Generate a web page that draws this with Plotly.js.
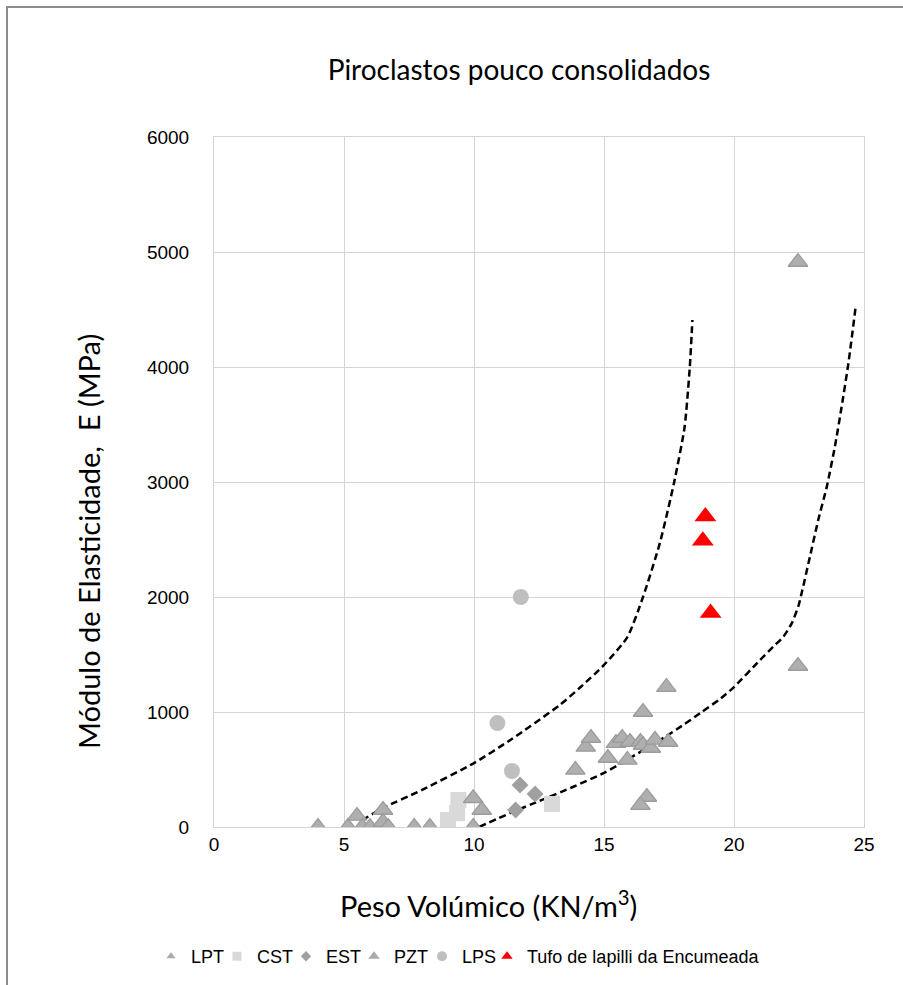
<!DOCTYPE html>
<html>
<head>
<meta charset="utf-8">
<script src="https://cdn.plot.ly/plotly-3.0.1.min.js"></script>
<style>
html,body{margin:0;padding:0;background:#fff;}
#wrap{position:relative;width:903px;height:985px;}
#chart{position:absolute;left:0;top:0;width:903px;height:985px;}
#frame{position:absolute;left:6px;top:6px;width:905px;height:990px;border-left:2px solid #8c8c8c;border-top:2px solid #8c8c8c;pointer-events:none;}
</style>
</head>
<body>
<div id="wrap"><div id="chart"></div><div id="frame"></div></div>
<script>
// ---- data ----
const lptX = [4.0, 5.15, 5.5, 5.7, 6.0, 6.5, 6.5, 6.7, 7.7, 8.3, 9.97, 10.3, 9.97];
const lptY = [0, 0, 96, 0, 0, 148, 43, 0, 0, 0, 250, 148, 0];

const cstX = [9.0, 9.35, 9.4, 13.0];
const cstY = [60, 120, 235, 200];

const estX = [11.6, 11.77, 12.35];
const estY = [148, 365, 287];

const pztX = [13.9, 14.3, 14.5, 15.15, 15.46, 15.7, 15.9, 16.0, 16.4, 16.5, 16.8, 16.96, 17.47, 16.5, 17.4, 16.65, 16.4, 22.46, 22.46];
const pztY = [496, 696, 774, 600, 730, 774, 583, 739, 739, 713, 687, 757, 739, 1000, 1217, 261, 191, 4913, 1400];

const lpsX = [11.46, 10.9, 11.8];
const lpsY = [487, 904, 2000];

const tufoX = [18.9, 18.8, 19.1];
const tufoY = [2700, 2490, 1860];

const upperCurveX = [5.7, 6.5, 8.0, 10.0, 11.4, 13.3, 14.1, 15.0, 15.9, 16.5, 17.15, 17.7, 18.1, 18.3, 18.4];
const upperCurveY = [60, 165, 322, 556, 757, 1061, 1217, 1409, 1652, 2000, 2470, 3000, 3478, 4000, 4409];

const lowerCurveX = [10.2, 11.4, 12.5, 13.8, 15.0, 15.7, 17.4, 18.0, 18.7, 19.5, 20.0, 21.0, 21.51, 21.9, 22.22, 22.47, 22.6, 22.92, 23.24, 23.57, 23.88, 24.14, 24.4, 24.68];
const lowerCurveY = [0, 122, 225, 348, 470, 560, 790, 880, 990, 1120, 1217, 1452, 1568, 1655, 1771, 1916, 2032, 2350, 2670, 2960, 3307, 3655, 4032, 4524];

const seriesNames = ['LPT', 'CST', 'EST', 'PZT', 'LPS', 'Tufo de lapilli da Encumeada'];
const xTicks = [0, 5, 10, 15, 20, 25];
const yTicks = [0, 1000, 2000, 3000, 4000, 5000, 6000];

// ---- styles ----
const triGray = '#afafaf', triEdge = '#9c9c9c';
const fontAxis = 'Liberation Sans, Arial, sans-serif';
const fontTitle = 'Lato, Open Sans, sans-serif';

function pts(x, y, marker) {
  return {type: 'scatter', mode: 'markers', x: x, y: y, marker: marker, showlegend: false, hoverinfo: 'x+y'};
}
function leg(name, marker, legendId) {
  return {type: 'scatter', mode: 'markers', x: [null], y: [null], name: name, marker: marker, showlegend: true, legend: legendId};
}
const dashLine = {color: '#000', width: 2.5, dash: '7px,4px', shape: 'spline', smoothing: 0.6};

const legendIds = ['legend', 'legend2', 'legend3', 'legend4', 'legend5', 'legend6'];
const data = [
  {type: 'scatter', mode: 'lines', x: upperCurveX, y: upperCurveY, line: dashLine, showlegend: false},
  {type: 'scatter', mode: 'lines', x: lowerCurveX, y: lowerCurveY, line: dashLine, showlegend: false},
  pts(cstX, cstY, {symbol: 'square', size: 16, color: '#d9d9d9'}),
  pts(lptX, lptY, {symbol: 'triangle-up', size: 17, color: triGray, line: {color: triEdge, width: 1.3}}),
  pts(pztX, pztY, {symbol: 'triangle-up', size: 17, color: triGray, line: {color: triEdge, width: 1.3}}),
  pts(estX, estY, {symbol: 'diamond', size: 13, color: '#a0a0a0'}),
  pts(lpsX, lpsY, {symbol: 'circle', size: 16, color: '#bfbfbf'}),
  pts(tufoX, tufoY, {symbol: 'triangle-up', size: 19, color: '#ff0000'}),
  leg(seriesNames[0], {symbol: 'triangle-up', size: 8, color: '#aaaaaa'}, legendIds[0]),
  leg(seriesNames[1], {symbol: 'square', size: 9, color: '#d9d9d9'}, legendIds[1]),
  leg(seriesNames[2], {symbol: 'diamond', size: 8, color: '#a0a0a0'}, legendIds[2]),
  leg(seriesNames[3], {symbol: 'triangle-up', size: 10, color: '#aaaaaa'}, legendIds[3]),
  leg(seriesNames[4], {symbol: 'circle', size: 10, color: '#bfbfbf'}, legendIds[4]),
  leg(seriesNames[5], {symbol: 'triangle-up', size: 10, color: '#ff0000'}, legendIds[5])
];

const legendFont = {family: fontAxis, size: 18, color: '#000'};
// text start positions of the legend entries (px)
const legendTextStart = [186, 252, 321, 389, 457, 522];

const layout = {
  width: 903, height: 985,
  margin: {l: 214, r: 39, t: 137, b: 158, autoexpand: false},
  paper_bgcolor: '#fff', plot_bgcolor: '#fff',
  title: {text: 'Piroclastos pouco consolidados', font: {family: fontTitle, size: 28, color: '#000'}, x: 519 / 903, xanchor: 'center', y: 1 - 70 / 985, yanchor: 'middle'},
  xaxis: {
    range: [0, 25], tickvals: xTicks, ticktext: xTicks.map(String),
    showgrid: true, gridcolor: '#d4d4d4', gridwidth: 1,
    zeroline: false, showline: true, linecolor: '#d4d4d4', linewidth: 1, mirror: true,
    ticks: '', ticklen: 0, tickfont: {family: fontAxis, size: 19, color: '#000'}, ticklabelstandoff: 0, automargin: false
  },
  yaxis: {
    range: [0, 6000], tickvals: yTicks, ticktext: yTicks.map(String),
    showgrid: true, gridcolor: '#d4d4d4', gridwidth: 1,
    zeroline: false, showline: true, linecolor: '#d4d4d4', linewidth: 1, mirror: true,
    ticks: '', tickfont: {family: fontAxis, size: 19, color: '#000'}, ticklabelstandoff: 20, automargin: false
  },
  annotations: [
    {text: 'Peso Volúmico (KN/m<sup>3</sup>)', xref: 'paper', yref: 'paper', x: (488 - 214) / 650, y: -(904 - 827) / 690, xanchor: 'center', yanchor: 'middle', showarrow: false, font: {family: fontTitle, size: 29, color: '#000'}},
    {text: 'Módulo de Elasticidade,  E (MPa)', xref: 'paper', yref: 'paper', x: -(214 - 88) / 650, y: (827 - 542) / 690, xanchor: 'center', yanchor: 'middle', textangle: -90, showarrow: false, font: {family: fontTitle, size: 29, color: '#000'}}
  ],
  showlegend: true
};
legendIds.forEach(function (id, i) {
  layout[id] = {
    orientation: 'h', xref: 'container', yref: 'container',
    x: (legendTextStart[i] - 35) / 903, xanchor: 'left',
    y: 1 - 938 / 985, yanchor: 'top',
    font: legendFont, itemwidth: 30, bgcolor: 'rgba(0,0,0,0)'
  };
});

Plotly.newPlot('chart', data, layout, {displayModeBar: false, staticPlot: true});
</script>
</body>
</html>
